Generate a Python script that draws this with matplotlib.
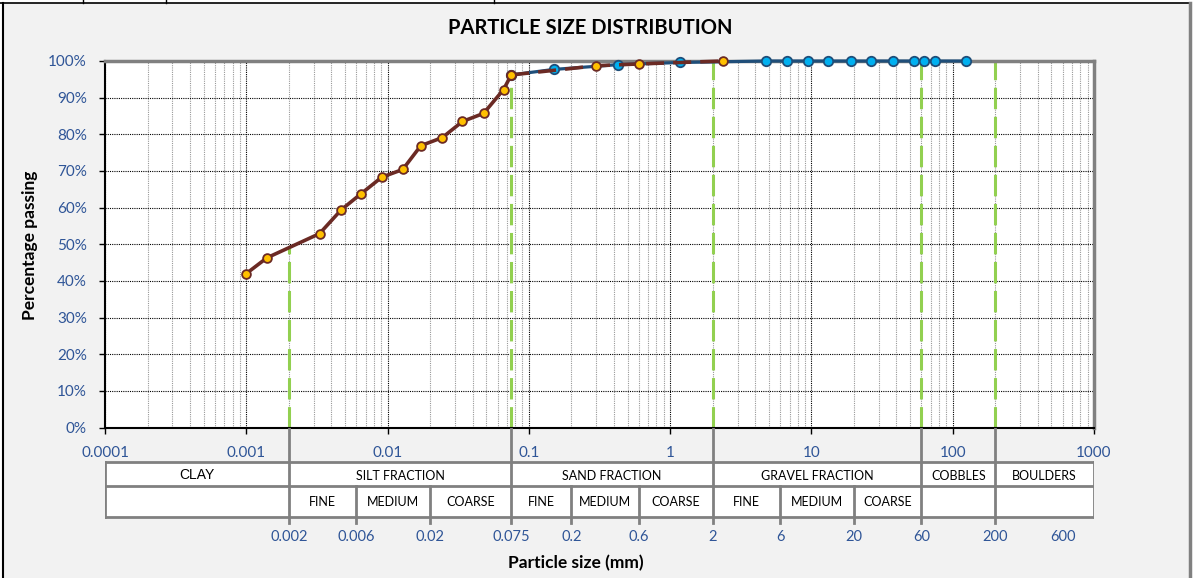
import numpy as np
import matplotlib
matplotlib.use('Agg')
import matplotlib.pyplot as plt
from matplotlib.ticker import PercentFormatter, LogLocator, NullFormatter
from matplotlib.patches import Rectangle
from matplotlib.lines import Line2D

# hydrometer part (mm, % passing)
hyd_size = [0.001, 0.0014, 0.0033, 0.0047, 0.0065, 0.0091, 0.0128, 0.0172, 0.0244, 0.0339, 0.0478, 0.0662, 0.075]
hyd_pass = [42.0, 46.3, 52.9, 59.4, 63.8, 68.3, 70.4, 76.9, 79.1, 83.5, 85.7, 92.2, 96.2]
# fine sieves (orange)
fs_size = [0.075, 0.3, 0.6, 2.36]
fs_pass = [96.2, 98.7, 99.2, 100.0]
# sieves (blue)
sv_size = [0.075, 0.15, 0.425, 1.18, 4.75, 6.7, 9.5, 13.2, 19, 26.5, 37.5, 53, 63, 75, 125]
sv_pass = [96.2, 97.7, 99.0, 99.6, 100, 100, 100, 100, 100, 100, 100, 100, 100, 100, 100]

# classification
main_bounds = [0.0001, 0.002, 0.075, 2, 60, 200, 1000]
main_names = ['CLAY', 'SILT FRACTION', 'SAND FRACTION', 'GRAVEL FRACTION', 'COBBLES', 'BOULDERS']
sub_bounds = [0.006, 0.02, 0.2, 0.6, 6, 20]
sub_cells = [(0.002, 0.006, 'FINE'), (0.006, 0.02, 'MEDIUM'), (0.02, 0.075, 'COARSE'),
             (0.075, 0.2, 'FINE'), (0.2, 0.6, 'MEDIUM'), (0.6, 2, 'COARSE'),
             (2, 6, 'FINE'), (6, 20, 'MEDIUM'), (20, 60, 'COARSE')]
bottom_labels = [0.002, 0.006, 0.02, 0.075, 0.2, 0.6, 2, 6, 20, 60, 200, 600]
drop_sizes = [0.002, 0.075, 2, 60, 200]

FONT = ['Lato', 'DejaVu Sans']
BLUE_TXT = '#2F5597'
GRAY = '#808080'
W, H = 1203, 578

plt.rcParams['font.family'] = FONT
fig = plt.figure(figsize=(W / 100, H / 100), dpi=100, facecolor='white')

# chart area frame
fig.patches.append(Rectangle((3 / W, 0), 1187 / W, 1 - 3 / H, transform=fig.transFigure,
                             facecolor='#F2F2F2', edgecolor='none', zorder=-5))
fig.add_artist(Line2D([0, 1190 / W], [1 - 2.5 / H] * 2, color='black', lw=1.2))
fig.add_artist(Line2D([3 / W] * 2, [0, 1 - 2.5 / H], color='black', lw=1.5))
fig.add_artist(Line2D([1190 / W] * 2, [0, 1 - 2.5 / H], color=GRAY, lw=2.5))
for xc in [83, 166, 494]:
    fig.add_artist(Line2D([xc / W] * 2, [1 - 2.5 / H, 1], color='black', lw=1))

x0, x1 = 105, 1094
y_top, y_bot = 61, 427.5
ax = fig.add_axes([x0 / W, 1 - y_bot / H, (x1 - x0) / W, (y_bot - y_top) / H])
ax.set_xscale('log')
ax.set_xlim(0.0001, 1000)
ax.set_ylim(0, 100)
ax.set_facecolor('white')

ax.xaxis.set_minor_locator(LogLocator(base=10, subs=np.arange(2, 10), numticks=20))
ax.xaxis.set_minor_formatter(NullFormatter())
ax.set_xticks([0.0001, 0.001, 0.01, 0.1, 1, 10, 100, 1000])
ax.set_xticklabels(['0.0001', '0.001', '0.01', '0.1', '1', '10', '100', '1000'])
ax.set_yticks(np.arange(0, 101, 10))
ax.yaxis.set_major_formatter(PercentFormatter(decimals=0))
ax.tick_params(axis='both', which='major', direction='out', length=4, width=1,
               labelsize=11, labelcolor=BLUE_TXT, color='black')
ax.tick_params(axis='x', which='major', pad=9)
ax.tick_params(axis='y', which='major', pad=9)
ax.tick_params(axis='x', which='minor', length=0)

ax.grid(True, which='major', axis='both', color='black', linestyle=(0, (1, 1)), lw=0.8)
ax.grid(True, which='minor', axis='x', color='#999999', linestyle=(0, (1, 1)), lw=0.8)
ax.set_axisbelow(True)

for s in ['left', 'bottom']:
    ax.spines[s].set_color('black')
    ax.spines[s].set_linewidth(1.5)
for s in ['top', 'right']:
    ax.spines[s].set_color(GRAY)
    ax.spines[s].set_linewidth(2.5)

# drop lines at boundaries
all_size = np.array(hyd_size + sv_size[1:] + fs_size[1:])
all_pass = np.array(hyd_pass + sv_pass[1:] + fs_pass[1:])
order = np.argsort(all_size)
for b in drop_sizes:
    top = np.interp(np.log10(b), np.log10(all_size[order]), all_pass[order])
    ax.plot([b, b], [0, top], color='#92D050', lw=2.2, dashes=(7, 2.5), zorder=2)

ax.plot(sv_size, sv_pass, color='#1F4E79', lw=2.3, marker='o', ms=6.8,
        mfc='#00B0F0', mec='#1F4E79', mew=1.3, zorder=3, clip_on=False)
ax.plot(fs_size, fs_pass, color='#6B2A24', lw=2.6, dashes=(5, 2.5), marker='o', ms=6.3,
        mfc='#FFC000', mec='#6B2A24', mew=1.3, zorder=4, clip_on=False)
ax.plot(hyd_size, hyd_pass, color='#6B2A24', lw=2.6, marker='o', ms=6.3,
        mfc='#FFC000', mec='#6B2A24', mew=1.3, zorder=5, clip_on=False)

# classification table below the axis
t_top, t_bot = 428, 545
tab = fig.add_axes([x0 / W, 1 - t_bot / H, (x1 - x0) / W, (t_bot - t_top) / H])
tab.set_xscale('log')
tab.set_xlim(0.0001, 1000)
tab.set_ylim(t_bot, t_top)
tab.axis('off')
tab.patch.set_alpha(0)

r1, r2, r3 = 462, 486, 517
tab.add_patch(Rectangle((0.0001, r1), 1000 - 0.0001, r3 - r1, facecolor='white',
                        edgecolor='none', zorder=0))
for yy in [r1, r2, r3]:
    tab.plot([0.0001, 1000], [yy, yy], color=GRAY, lw=2, zorder=2)
tab.plot([0.0001, 0.0001], [r1, r3], color=GRAY, lw=2, zorder=2)
tab.plot([1000, 1000], [r1, r3], color=GRAY, lw=2, zorder=2)
for b in main_bounds[1:-1]:
    tab.plot([b, b], [t_top, 523], color=GRAY, lw=2, zorder=2)
for b in sub_bounds:
    tab.plot([b, b], [r2, 523], color=GRAY, lw=2, zorder=2)

for i, name in enumerate(main_names):
    xc = np.sqrt(main_bounds[i] * main_bounds[i + 1])
    if name == 'CLAY':
        tab.text(xc, 475, name, ha='center', va='center', fontsize=10,
                 family=['Liberation Sans', 'DejaVu Sans'])
    else:
        tab.text(xc, 476.5, name, ha='center', va='center', fontsize=9)
for a, b, name in sub_cells:
    tab.text(np.sqrt(a * b), 502.5, name, ha='center', va='center', fontsize=9)
for v in bottom_labels:
    tab.text(v, 537, '%g' % v, ha='center', va='center', fontsize=10.5, color=BLUE_TXT)

fig.text(590 / W, 1 - 28 / H, 'PARTICLE SIZE DISTRIBUTION', ha='center', va='center',
         fontsize=14.5, fontweight='bold')
fig.text(576 / W, 1 - 563 / H, 'Particle size (mm)', ha='center', va='center',
         fontsize=12.5, fontweight='bold')
fig.text(30 / W, 1 - 245 / H, 'Percentage passing', ha='center', va='center',
         rotation=90, fontsize=12.5, fontweight='bold')

fig.savefig('out.png', dpi=100, facecolor='white')
